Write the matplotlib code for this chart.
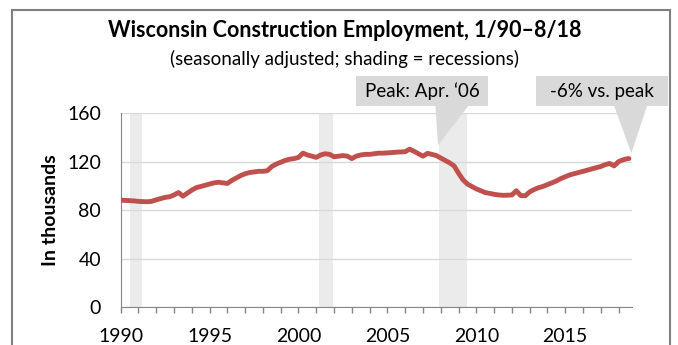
import matplotlib
matplotlib.use("Agg")
import matplotlib.pyplot as plt
from matplotlib.patches import Rectangle, Polygon
import numpy as np

plt.rcParams['font.family'] = ['Lato', 'DejaVu Sans']

# quarterly readings (Jan, Apr, Jul, Oct), thousands of jobs, plus Aug 2018
start_year = 1990
employment = [
    88.2, 88.0, 87.8, 87.6,
    87.2, 87.0, 86.9, 87.3,
    88.5, 89.5, 90.5, 91.0,
    92.5, 94.5, 91.5, 94.0,
    96.5, 98.5, 99.5, 100.5,
    101.5, 102.5, 103.0, 102.5,
    102.0, 104.5, 106.5, 108.5,
    110.0, 111.0, 111.5, 112.0,
    112.0, 112.5, 116.0, 118.0,
    119.5, 121.0, 122.0, 122.5,
    123.5, 127.0, 125.5, 124.5,
    123.5, 125.5, 126.5, 126.0,
    124.0, 124.5, 125.0, 124.5,
    122.5, 124.5, 125.5, 126.0,
    126.0, 126.5, 127.0, 127.0,
    127.2, 127.5, 127.8, 128.0,
    128.2, 130.3, 128.5, 126.5,
    124.5, 126.8, 126.0, 125.0,
    123.0, 121.0, 119.0, 116.5,
    110.5, 105.0, 101.5, 99.5,
    97.5, 96.0, 94.5, 93.8,
    93.0, 92.5, 92.2, 92.3,
    92.5, 96.0, 92.0, 91.8,
    95.0, 97.0, 98.5, 99.5,
    101.0, 102.5, 104.0, 106.0,
    107.5, 109.0, 110.0, 111.0,
    112.0, 113.0, 114.0, 115.0,
    116.0, 117.5, 118.5, 116.5,
    120.0, 121.5, 122.5,
]
last_value = 122.5  # Aug 2018

recessions = [(1990.5, 1991.2), (2001.17, 2001.92), (2007.92, 2009.5)]

dates = start_year + np.arange(len(employment)) * 0.25
dates = np.append(dates, 2018 + 7 / 12)
values = np.append(employment, last_value)

fig = plt.figure(figsize=(6.78, 3.45), dpi=100)
ax = fig.add_axes([0.178, 0.110, 0.754, 0.562])

for a, b in recessions:
    ax.axvspan(a, b, ymin=0, ymax=1, color='#ebebeb', zorder=0, lw=0)

ax.plot(dates, values, color='#c0504d', lw=3.5, solid_capstyle='round',
        solid_joinstyle='round', zorder=3)

ax.set_xlim(1990, 2018.75)
ax.set_ylim(0, 160)
ax.set_yticks([0, 40, 80, 120, 160])
ax.yaxis.grid(True, color='#d9d9d9', lw=1, zorder=1)
ax.set_axisbelow(True)
ax.set_xticks(np.arange(1990, 2019), minor=True)
ax.set_xticks([1990, 1995, 2000, 2005, 2010, 2015])
ax.tick_params(axis='x', which='both', length=4, color='#868686', width=1)
ax.tick_params(axis='x', which='major', labelsize=14, pad=11)
ax.tick_params(axis='y', length=0, labelsize=14, pad=14)
for s in ['top', 'right']:
    ax.spines[s].set_visible(False)
for s in ['left', 'bottom']:
    ax.spines[s].set_color('#868686')
ax.set_ylabel('In thousands', fontsize=14, fontweight='bold', labelpad=6)

fig.text(0.508, 0.913, 'Wisconsin Construction Employment, 1/90\u20138/18',
         ha='center', va='center', fontsize=15.5, fontweight='bold')
fig.text(0.508, 0.83, '(seasonally adjusted; shading = recessions)',
         ha='center', va='center', fontsize=13.5)

# callouts
box_c = '#d9d9d9'
ax.add_patch(Rectangle((2003.25, 165.8), 7.43, 24.7, color=box_c,
                       clip_on=False, zorder=4, lw=0))
ax.add_patch(Polygon([(2007.7, 166), (2009.55, 166), (2007.85, 133.6)],
                     color=box_c, clip_on=False, zorder=4, lw=0))
ax.text(2006.96, 178, 'Peak: Apr. \u201806', ha='center', va='center',
        fontsize=13.5, zorder=5)
ax.add_patch(Rectangle((2013.37, 165.8), 7.43, 24.7, color=box_c,
                       clip_on=False, zorder=4, lw=0))
ax.add_patch(Polygon([(2017.75, 166), (2019.6, 166), (2018.72, 127)],
                     color=box_c, clip_on=False, zorder=4, lw=0))
ax.text(2017.08, 178, '-6% vs. peak', ha='center', va='center',
        fontsize=13.5, zorder=5)

# outer frame
fig.patches.append(Rectangle((12 / 678, -0.05), 658 / 678, 1 - 10 / 345 + 0.05,
                             transform=fig.transFigure, fill=False,
                             edgecolor='#808080', lw=1.5))

fig.savefig('out.png', dpi=100)
